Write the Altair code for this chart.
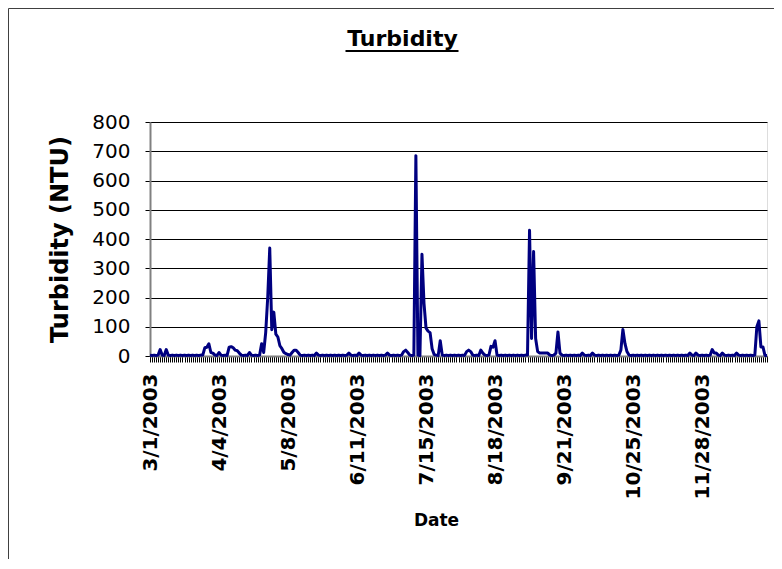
import altair as alt
import pandas as pd

# Daily turbidity readings
turbidity = [
    3, 2, 3, 2, 3, 22, 3, 2, 22, 3,
    2, 3, 2, 3, 2, 3, 2, 3, 2, 3,
    2, 3, 2, 3, 2, 3, 3, 28, 30, 42,
    12, 10, 3, 2, 12, 3, 2, 3, 2, 30,
    32, 28, 20, 18, 10, 3, 2, 3, 2, 12,
    3, 2, 3, 2, 3, 42, 12, 80, 200, 369,
    90, 150, 75, 65, 35, 25, 12, 8, 5, 3,
    12, 20, 20, 12, 3, 2, 3, 2, 3, 2,
    3, 2, 10, 3, 2, 3, 2, 3, 2, 3,
    2, 3, 2, 3, 2, 3, 2, 3, 10, 3,
    2, 3, 2, 10, 3, 2, 3, 2, 3, 2,
    3, 2, 3, 2, 3, 2, 3, 10, 3, 2,
    3, 2, 3, 2, 3, 15, 20, 12, 3, 2,
    3, 685, 3, 2, 348, 180, 95, 85, 80, 25,
    5, 3, 2, 52, 3, 2, 3, 2, 3, 2,
    3, 2, 3, 2, 3, 2, 15, 20, 15, 3,
    2, 3, 2, 20, 10, 3, 2, 3, 33, 30,
    52, 3, 2, 3, 2, 3, 2, 3, 2, 3,
    2, 3, 2, 3, 2, 3, 3, 430, 60, 357,
    60, 15, 10, 10, 10, 10, 10, 3, 2, 3,
    10, 82, 10, 3, 2, 3, 2, 3, 2, 3,
    2, 3, 2, 10, 3, 2, 3, 2, 10, 3,
    2, 3, 2, 3, 2, 3, 2, 3, 2, 3,
    2, 3, 20, 91, 43, 15, 3, 2, 3, 2,
    3, 2, 3, 2, 3, 2, 3, 2, 3, 2,
    3, 2, 3, 2, 3, 2, 3, 2, 3, 2,
    3, 2, 3, 2, 3, 2, 10, 3, 2, 10,
    3, 2, 3, 2, 3, 2, 3, 22, 10, 10,
    3, 2, 10, 3, 2, 3, 2, 3, 2, 10,
    3, 2, 3, 2, 3, 2, 3, 2, 3, 100,
    120, 31, 31, 2, 2,
]

start_date = "2003-03-01"
label_days = [0, 34, 68, 102, 136, 170, 204, 238, 272]
label_text = ["3/1/2003", "4/4/2003", "5/8/2003", "6/11/2003", "7/15/2003",
              "8/18/2003", "9/21/2003", "10/25/2003", "11/28/2003"]
y_ticks = [0, 100, 200, 300, 400, 500, 600, 700, 800]

n = len(turbidity)
dates = pd.date_range(start_date, periods=n, freq="D")
df = pd.DataFrame({
    "day": list(range(n)),
    "date": [f"{d.month}/{d.day}/{d.year}" for d in dates],
    "turbidity": turbidity,
})

label_expr = "".join(f"datum.value == {d} ? '{t}' : " for d, t in zip(label_days, label_text)) + "''"

W, H = 617, 234
PL, PT = 142, 114

line = alt.Chart(df).mark_line(color="#000080", strokeWidth=3, strokeJoin="round").encode(
    x=alt.X("day:Q",
            scale=alt.Scale(domain=[0, n - 1], nice=False, zero=False),
            axis=alt.Axis(values=list(range(n)), labelExpr=label_expr,
                          labelAngle=270, labelAlign="right", labelBaseline="middle",
                          labelFont="DejaVu Sans", labelFontSize=20, labelFontWeight="bold",
                          labelColor="black", labelPadding=11, labelOverlap=False,
                          labelBound=False, labelFlush=False,
                          tickColor="black", tickSize=6, tickWidth=1,
                          domainColor="#808080", domainWidth=2, grid=False,
                          title="Date", titleFont="DejaVu Sans", titleFontSize=17,
                          titleFontWeight="bold", titleColor="black",
                          titleX=286, titleY=164, titleAlign="center",
                          titleBaseline="middle")),
    y=alt.Y("turbidity:Q",
            scale=alt.Scale(domain=[0, 800], nice=False),
            axis=alt.Axis(values=y_ticks, labelFont="DejaVu Sans", labelFontSize=20,
                          labelColor="black", labelPadding=15,
                          tickColor="black", tickSize=5, tickWidth=1,
                          domainColor="#808080", domainWidth=2,
                          grid=True, gridColor="black", gridWidth=1,
                          title="Turbidity (NTU)", titleFont="DejaVu Sans",
                          titleFontSize=24, titleFontWeight="bold", titleColor="black",
                          titleAngle=270, titleX=-89.5, titleY=117,
                          titleAlign="center", titleBaseline="middle")),
)

deco = alt.Data(values=[{}])
frame = alt.Chart(deco).mark_rect(fill=None, stroke="#404040", strokeWidth=1).encode(
    x=alt.value(-141.5), y=alt.value(-113.5), x2=alt.value(900), y2=alt.value(700))
underline = alt.Chart(deco).mark_rule(color="black", strokeWidth=2).encode(
    x=alt.value(195.5), x2=alt.value(308.5), y=alt.value(-71))

chart = alt.layer(frame, line, underline).properties(
    width=W, height=H,
    autosize=alt.AutoSizeParams(type="none"),
    padding={"left": PL, "top": PT, "right": 7, "bottom": 203},
    title=alt.TitleParams("Turbidity", font="DejaVu Sans", fontSize=22, fontWeight="bold",
                          color="black", anchor="middle", frame="group", dx=-56,
                          baseline="alphabetic", offset=0, dy=60),
).configure_view(fill="#C0C0C0", stroke="#808080", strokeWidth=2
).configure(background="white")

chart.save("out.html", embed_options={"renderer": "svg", "actions": False})
